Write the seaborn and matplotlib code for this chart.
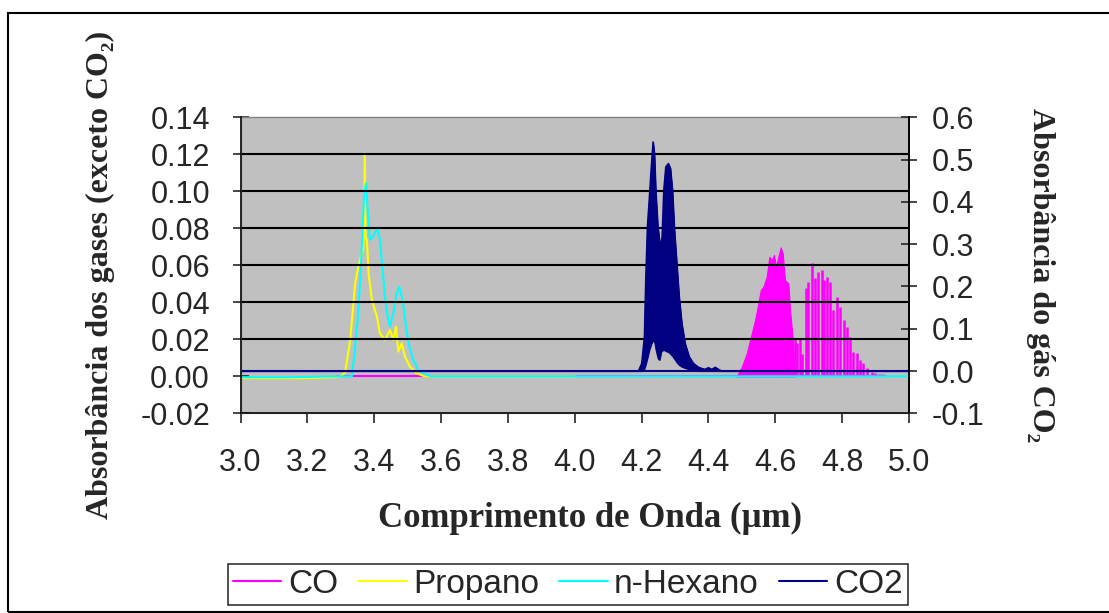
import numpy as np
import pandas as pd
import seaborn as sns
import matplotlib
matplotlib.use('Agg')
from matplotlib import pyplot as plt
from matplotlib.lines import Line2D
from matplotlib.patches import Rectangle
from matplotlib.ticker import FormatStrFormatter

# Propano (left axis)
prop_x = [3.00, 3.10, 3.20, 3.28, 3.300, 3.313, 3.328, 3.343, 3.352, 3.363, 3.368, 3.372,
          3.374, 3.378, 3.383, 3.393, 3.408, 3.417, 3.432, 3.447, 3.457, 3.465, 3.472,
          3.482, 3.492, 3.507, 3.527, 3.550, 3.700, 3.850, 4.000]
prop_y = [-0.001, -0.001, -0.001, -0.0005, 0.000, 0.002, 0.0196, 0.0503, 0.0592, 0.0665,
          0.070, 0.1205, 0.075, 0.0737, 0.0557, 0.0412, 0.0322, 0.0232, 0.0196, 0.025,
          0.0196, 0.0268, 0.0133, 0.0178, 0.0106, 0.0052, 0.0016, 0.0, 0.0, 0.0, 0.0]

# n-Hexano (left axis)
hex_x = [3.00, 3.15, 3.30, 3.333, 3.343, 3.352, 3.360, 3.366, 3.370, 3.3755, 3.381, 3.387,
         3.397, 3.409, 3.417, 3.425, 3.432, 3.440, 3.447, 3.457, 3.467, 3.475, 3.485,
         3.495, 3.505, 3.517, 3.532, 3.547, 3.570, 3.800, 4.200, 4.600, 5.000]
hex_y = [-0.0005, -0.0005, 0.0, 0.0, 0.016, 0.034, 0.0592, 0.0827, 0.0989, 0.1043, 0.0881,
         0.0737, 0.0755, 0.0805, 0.0737, 0.0575, 0.043, 0.0322, 0.0268, 0.034, 0.0449,
         0.0484, 0.0412, 0.0268, 0.016, 0.0088, 0.0034, 0.0016, 0.0, 0.0, 0.0, 0.0, 0.0]

# CO (left axis): baseline, dense band and separate lines
co_base_x = [3.29, 4.93]
co_base_y = [0.0, 0.0]
co_band_x = [4.484, 4.4995, 4.5144, 4.5294, 4.5393, 4.5492, 4.5563, 4.5641, 4.574, 4.582,
             4.589, 4.596, 4.602, 4.609, 4.616, 4.622, 4.629, 4.639, 4.644, 4.652, 4.658]
co_band_y = [0.0, 0.005, 0.0124, 0.0232, 0.0304, 0.0395, 0.0466, 0.0484, 0.0538, 0.0646,
             0.0629, 0.0656, 0.0592, 0.0646, 0.0697, 0.0665, 0.052, 0.0502, 0.0358, 0.0205, 0.0]
co_line_x = [4.660, 4.666, 4.674, 4.681, 4.692, 4.699, 4.709, 4.719, 4.727, 4.739, 4.747,
             4.756, 4.764, 4.7735, 4.784, 4.7936, 4.8055, 4.8154, 4.8235, 4.8334, 4.8435,
             4.8534, 4.8633, 4.8734, 4.8884, 4.898, 4.910, 4.920]
co_line_y = [0.020, 0.0178, 0.0205, 0.012, 0.0476, 0.0511, 0.0611, 0.053, 0.0565, 0.0575,
             0.052, 0.0538, 0.0511, 0.0358, 0.043, 0.0376, 0.0304, 0.0268, 0.0214, 0.0133,
             0.0124, 0.0088, 0.007, 0.0043, 0.0025, 0.0016, 0.001, 0.001]

# CO2 (right axis): upper and lower envelope of the dense band
co2_x = [3.00, 4.190, 4.200, 4.208, 4.212, 4.217, 4.223, 4.228, 4.234, 4.238, 4.242, 4.248,
         4.253, 4.256, 4.257, 4.258, 4.261, 4.266, 4.272, 4.280, 4.286, 4.292, 4.298, 4.305,
         4.312, 4.320, 4.330, 4.342, 4.355, 4.370, 4.388, 4.400, 4.410, 4.420, 4.430, 4.440, 5.00]
co2_top = [0.0, 0.0, 0.018, 0.081, 0.215, 0.341, 0.412, 0.475, 0.542, 0.515, 0.428, 0.345,
           0.310, 0.300, 0.176, 0.300, 0.318, 0.428, 0.483, 0.491, 0.479, 0.428, 0.333, 0.255,
           0.176, 0.113, 0.065, 0.034, 0.018, 0.009, 0.004, 0.008, 0.004, 0.009, 0.004, 0.0, 0.0]
co2_bot = [0.0, 0.0, 0.0, 0.005, 0.015, 0.030, 0.050, 0.062, 0.073, 0.068, 0.050, 0.030,
           0.026, 0.035, 0.040, 0.045, 0.048, 0.050, 0.047, 0.045, 0.040, 0.035, 0.028, 0.020,
           0.014, 0.010, 0.007, 0.004, 0.002, 0.0, 0.0, 0.0, 0.0, 0.0, 0.0, 0.0, 0.0]

x_ticks = [3.0, 3.2, 3.4, 3.6, 3.8, 4.0, 4.2, 4.4, 4.6, 4.8, 5.0]
left_ticks = [-0.02, 0.00, 0.02, 0.04, 0.06, 0.08, 0.10, 0.12, 0.14]
right_ticks = [-0.1, 0.0, 0.1, 0.2, 0.3, 0.4, 0.5, 0.6]
grid_levels = [0.02, 0.04, 0.06, 0.08, 0.10, 0.12]

names = ['CO', 'Propano', 'n-Hexano', 'CO2']
colors = ['#FF00FF', '#FFFF00', '#00FFFF', '#000080']

sns.set_style('white')
plt.rcParams['font.family'] = ['Liberation Sans', 'DejaVu Sans']
plt.rcParams['axes.unicode_minus'] = False

fig = plt.figure(figsize=(11.09, 6.13), dpi=100)
ax = fig.add_axes([0.2169, 0.3258, 0.6028, 0.4828])
ax.set_facecolor('#C0C0C0')

# CO
sns.lineplot(x=co_base_x, y=co_base_y, ax=ax, color=colors[0], lw=1.5, estimator=None)
ax.fill_between(co_band_x, 0, co_band_y, color=colors[0], lw=0.8)
ax.vlines(co_line_x, 0, co_line_y, color=colors[0], lw=1.8)

# Propano, n-Hexano
df_p = pd.DataFrame({'x': prop_x, 'y': prop_y})
df_h = pd.DataFrame({'x': hex_x, 'y': hex_y})
sns.lineplot(data=df_p, x='x', y='y', ax=ax, color=colors[1], lw=1.5, estimator=None)
sns.lineplot(data=df_h, x='x', y='y', ax=ax, color=colors[2], lw=1.5, estimator=None)

for g in grid_levels:
    ax.axhline(g, color='black', lw=1.5, zorder=2.5)

ax.set_xlim(3.0, 5.0)
ax.set_ylim(-0.02, 0.14)
ax.set_xticks(x_ticks)
ax.set_yticks(left_ticks)
ax.xaxis.set_major_formatter(FormatStrFormatter('%.1f'))
ax.yaxis.set_major_formatter(FormatStrFormatter('%.2f'))
ax.tick_params(axis='y', direction='inout', length=12, width=1.2, pad=16, labelsize=22, left=True)
ax.tick_params(axis='x', direction='out', length=7, width=1.2, pad=18, labelsize=22, bottom=True)
for s in ['left', 'bottom', 'right']:
    ax.spines[s].set_color('black')
    ax.spines[s].set_linewidth(1.2)
ax.spines['top'].set_color('#808080')
ax.spines['top'].set_linewidth(1.0)

# CO2 on right axis
ax2 = ax.twinx()
ax2.fill_between(co2_x, co2_bot, co2_top, color=colors[3], lw=0.8)
sns.lineplot(x=co2_x, y=co2_top, ax=ax2, color=colors[3], lw=1.0, estimator=None)
sns.lineplot(x=[3.0, 5.0], y=[0.0, 0.0], ax=ax2, color=colors[3], lw=1.5, estimator=None)
ax2.set_ylim(-0.1, 0.6)
ax2.set_yticks(right_ticks)
ax2.yaxis.set_major_formatter(FormatStrFormatter('%.1f'))
ax2.tick_params(axis='y', direction='inout', length=12, width=1.2, pad=10, labelsize=22, right=True)
ax2.spines['right'].set_color('black')
ax2.spines['right'].set_linewidth(1.2)
ax2.spines['top'].set_visible(False)
ax2.set_xlim(3.0, 5.0)

serif = ['Liberation Serif', 'DejaVu Serif']
ax.set_xlabel('Comprimento de Onda (µm)', family=serif, fontweight='bold', fontsize=25)
ax.xaxis.set_label_coords(0.523, -0.300)
ax.set_ylabel('Absorbância dos gases (exceto CO₂)', family=serif, fontweight='bold', fontsize=23)
ax.yaxis.set_label_coords(-0.188, 0.467)
ax2.set_ylabel('Absorbância do gás CO₂', family=serif, fontweight='bold', fontsize=23,
               rotation=270, va='center')
ax2.yaxis.set_label_coords(1.196, 0.467)

handles = [Line2D([], [], color=c, lw=1.5) for c in colors]
leg = fig.legend(handles, names, loc='center', bbox_to_anchor=(0.512, 0.047), ncol=4,
                 frameon=True, fancybox=False, edgecolor='black', fontsize=24,
                 handlelength=1.45, handletextpad=0.2, columnspacing=0.6, borderpad=0.15,
                 borderaxespad=0.0)
leg.get_frame().set_linewidth(1.2)

fig.add_artist(Rectangle((8 / 1109, 1 / 613), 1.0, (612 - 13) / 613, transform=fig.transFigure,
                         fill=False, ec='black', lw=1.5))

fig.savefig('out.png', dpi=100)
